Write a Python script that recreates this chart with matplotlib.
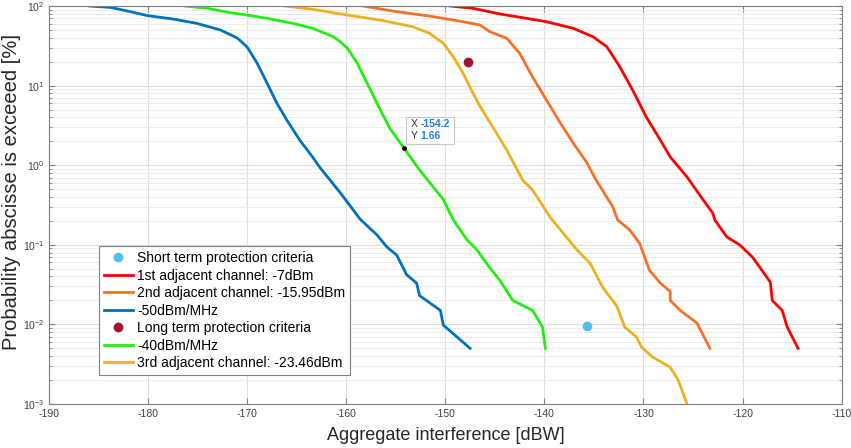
import numpy as np
import matplotlib.pyplot as plt
import matplotlib.transforms as mtransforms
from matplotlib.patches import Rectangle
from matplotlib.ticker import LogLocator, NullFormatter

plt.rcParams['font.family'] = ['Liberation Sans', 'DejaVu Sans']
plt.rcParams['axes.unicode_minus'] = False

# -50dBm/MHz
blue_x = [-185.9, -183.8, -181.8, -180.0, -177.5, -175.1, -172.7, -171.0, -170.0, -169.0, -168.0,
          -167.0, -166.0, -164.7, -163.4, -162.7, -160.6, -158.6, -156.9, -155.9, -154.9, -153.9,
          -152.9, -152.6, -150.5, -150.2, -147.5]
blue_y = [100, 96, 85, 75.5, 68.7, 60.6, 50, 39.6, 30.5, 19.2, 10.8,
          6.0, 3.7, 2.07, 1.27, 0.95, 0.45, 0.21, 0.133, 0.094, 0.074, 0.042,
          0.033, 0.023, 0.015, 0.0098, 0.005]

# -40dBm/MHz
green_x = [-176.3, -174.0, -171.7, -170.0, -168.0, -165.4, -163.4, -161.3, -160.6, -159.9, -158.9,
           -157.9, -156.9, -155.6, -154.2, -152.6, -150.2, -149.2, -147.8, -146.8, -145.5, -144.5,
           -143.2, -141.2, -140.2, -139.9]
green_y = [100, 93.6, 82.4, 77, 70, 60.6, 52.5, 41.1, 35.5, 29.6, 19.2,
           10.8, 6.0, 2.9, 1.66, 0.87, 0.37, 0.205, 0.115, 0.086, 0.051, 0.036,
           0.020, 0.015, 0.0093, 0.005]

# 3rd adjacent channel: -23.46dBm
yellow_x = [-166.2, -163.4, -159.9, -156.6, -153.3, -151.6, -150.2, -149.2, -148.2, -147.2, -146.5,
            -145.2, -143.8, -142.2, -141.2, -139.4, -138.4, -136.7, -135.4, -134.1, -132.7, -131.9,
            -130.7, -130.2, -129.1, -127.3, -126.5, -125.6]
yellow_y = [100, 91, 77, 66.7, 55, 45.4, 34, 23, 14.3, 8.0, 5.5,
            3.0, 1.55, 0.65, 0.49, 0.22, 0.155, 0.086, 0.059, 0.029, 0.017, 0.0093,
            0.0069, 0.0052, 0.0039, 0.0029, 0.002, 0.001]

# 2nd adjacent channel: -15.95dBm
orange_x = [-158.3, -154.9, -151.6, -148.2, -146.5, -145.5, -143.8, -142.5, -141.2, -139.8, -138.4,
            -137.1, -135.7, -134.9, -133.1, -132.6, -131.4, -130.4, -129.4, -128.3, -127.3, -127.3,
            -126.3, -124.6, -123.3]
orange_y = [100, 84.8, 74.8, 63.5, 57.7, 47.5, 39.3, 25.5, 12.9, 6.6, 3.4,
            1.9, 1.07, 0.69, 0.30, 0.205, 0.154, 0.105, 0.048, 0.033, 0.026, 0.020,
            0.015, 0.0104, 0.005]

# 1st adjacent channel: -7dBm
red_x = [-149.5, -147.2, -144.5, -141.8, -139.8, -137.1, -135.1, -133.7, -132.4, -131.1, -129.7,
         -128.3, -127.3, -125.6, -124.0, -123.0, -122.8, -121.6, -120.3, -119.0, -118.3, -117.2,
         -117.0, -116.0, -115.5, -114.4]
red_y = [100, 93.6, 79.4, 70, 63.5, 52.5, 41.1, 30.8, 17.3, 8.8, 4.0,
         2.07, 1.27, 0.71, 0.37, 0.25, 0.205, 0.126, 0.1, 0.07, 0.053, 0.034,
         0.020, 0.015, 0.0093, 0.005]

short_term = (-135.7, 0.0095)
long_term = (-147.7, 20)
tip_x, tip_y = -154.2, 1.66

labels = ['Short term protection criteria', '1st adjacent channel: -7dBm',
          '2nd adjacent channel: -15.95dBm', '-50dBm/MHz',
          'Long term protection criteria', '-40dBm/MHz',
          '3rd adjacent channel: -23.46dBm']

fig = plt.figure(figsize=(8.51, 4.48), dpi=100)
ax = fig.add_axes([0.0576, 0.0982, 0.9314, 0.8884])

lw = 2.0
h_short, = ax.plot(*short_term, 'o', color='#4DBEEE', markersize=6, linestyle='none')
h_red, = ax.plot(red_x, red_y, color='#FF0000', lw=lw)
h_orange, = ax.plot(orange_x, orange_y, color='#F7702A', lw=lw)
h_blue, = ax.plot(blue_x, blue_y, color='#0072BD', lw=lw)
h_long, = ax.plot(*long_term, 'o', color='#A2142F', markersize=6, linestyle='none')
h_green, = ax.plot(green_x, green_y, color='#22EE11', lw=lw)
h_yellow, = ax.plot(yellow_x, yellow_y, color='#EDB120', lw=lw)

# data tip box, sized in inches from the tip point
ax.plot(tip_x, tip_y, 'o', color='black', markersize=2.5, zorder=5)
tt = fig.dpi_scale_trans + mtransforms.ScaledTranslation(tip_x, tip_y, ax.transData)
ax.add_patch(Rectangle((0.02, 0.04), 0.48, 0.27, transform=tt, fc='white', ec='#c8c8c8',
                       lw=0.8, zorder=6, clip_on=False))
ax.text(0.07, 0.235, 'X', transform=tt, fontsize=7.5, color='#333333', va='center', zorder=7)
ax.text(0.07, 0.115, 'Y', transform=tt, fontsize=7.5, color='#333333', va='center', zorder=7)
ax.text(0.165, 0.235, f'{tip_x}', transform=tt, fontsize=7.5, color='#1f7fe0',
        fontweight='bold', va='center', zorder=7)
ax.text(0.165, 0.115, f'{tip_y}', transform=tt, fontsize=7.5, color='#1f7fe0',
        fontweight='bold', va='center', zorder=7)

ax.set_yscale('log')
ax.set_xlim(-190, -110)
ax.set_ylim(1e-3, 1e2)
ax.set_xticks(np.arange(-190, -109, 10))
ax.yaxis.set_major_locator(LogLocator(base=10, numticks=10))
ax.yaxis.set_minor_locator(LogLocator(base=10, subs=np.arange(2, 10), numticks=100))
ax.yaxis.set_minor_formatter(NullFormatter())

ax.grid(True, which='major', color='#dedede', lw=0.8)
ax.grid(True, which='minor', axis='y', color='#ececec', lw=0.7)
ax.set_axisbelow(True)
ax.tick_params(which='both', direction='in', top=True, right=True, labelsize=7.5,
               labelcolor='#404040', color='#808080')
ax.tick_params(which='major', length=4)
ax.tick_params(which='minor', length=2)
for s in ax.spines.values():
    s.set_color('#808080')
    s.set_linewidth(0.8)

ax.set_xlabel('Aggregate interference [dBW]', fontsize=13, color='#262626', labelpad=6)
ax.set_ylabel('Probability abscisse is exceeed [%]', fontsize=14.5, color='#262626')
ax.yaxis.set_label_coords(-0.035, 0.533)

leg = ax.legend([h_short, h_red, h_orange, h_blue, h_long, h_green, h_yellow], labels,
                loc='lower left', bbox_to_anchor=(0.063, 0.073), borderaxespad=0, fontsize=10,
                fancybox=False, edgecolor='#808080', framealpha=1,
                handlelength=2.1, handletextpad=0.3, labelspacing=0.25, borderpad=0.35)
leg.get_frame().set_linewidth(0.8)

fig.savefig('out.png', dpi=100)
